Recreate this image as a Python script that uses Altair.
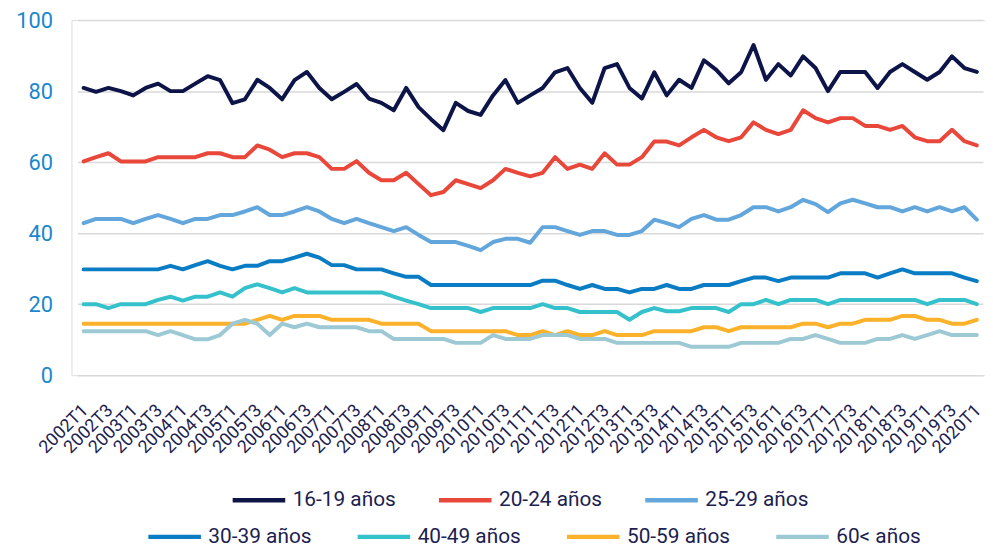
import altair as alt
import pandas as pd

# Quarter categories 2002T1 .. 2020T1
quarters = [f"{y}T{q}" for y in range(2002, 2021) for q in range(1, 5)][:73]
tick_labels = [q for q in quarters if q.endswith("T1") or q.endswith("T3")]

series_names = ["16-19 años", "20-24 años", "25-29 años",
                "30-39 años", "40-49 años", "50-59 años", "60< años"]
series_colors = ["#0c1448", "#e8473a", "#62a6dc",
                 "#0a7cc4", "#35c1cc", "#fbb12a", "#9dc9d4"]

s16_19 = [80.9, 79.8, 80.9, 80.0, 78.8, 80.9, 82.1, 80.0, 80.0, 82.1, 84.2, 83.1, 76.6, 77.7, 83.2, 80.9, 77.7, 83.1, 85.4, 80.9, 77.7,
          79.8, 82.0, 77.9, 76.7, 74.6, 80.9, 75.5, 72.1, 69.0, 76.7, 74.4, 73.3, 78.8, 83.1, 76.7, 78.8, 80.9, 85.3, 86.5, 80.9, 76.7, 86.5, 87.6, 80.9, 77.9, 85.3,
          78.8, 83.2, 80.9, 88.7, 86.0, 82.2, 85.3, 93.0, 83.2, 87.6, 84.4, 89.8, 86.5, 80.0, 85.4, 85.4, 85.4, 80.9, 85.4, 87.6, 85.4, 83.2, 85.4, 89.8, 86.5, 85.4]
s20_24 = [60.2, 61.4, 62.5, 60.2, 60.2, 60.2, 61.4, 61.4, 61.4, 61.4, 62.5, 62.5, 61.4, 61.4, 64.7, 63.5, 61.4, 62.5, 62.5, 61.4, 58.1,
          58.1, 60.3, 57.0, 54.9, 54.9, 57.0, 53.8, 50.7, 51.6, 54.9, 53.8, 52.7, 54.9, 58.1, 57.0, 56.0, 57.0, 61.4, 58.1, 59.3, 58.1, 62.5, 59.3, 59.3, 61.4, 65.8,
          65.8, 64.7, 67.0, 69.1, 67.0, 65.9, 67.0, 71.2, 69.1, 67.9, 69.1, 74.6, 72.4, 71.2, 72.4, 72.4, 70.2, 70.2, 69.1, 70.2, 67.0, 65.9, 65.9, 69.1, 65.9, 64.7]
s25_29 = [42.8, 44.0, 44.0, 44.0, 42.8, 44.0, 45.1, 44.0, 42.8, 44.0, 44.0, 45.1, 45.1, 46.1, 47.3, 45.1, 45.1, 46.1, 47.3, 46.1, 44.0,
          42.8, 44.0, 42.8, 41.7, 40.6, 41.7, 39.5, 37.5, 37.5, 37.5, 36.4, 35.2, 37.5, 38.4, 38.4, 37.3, 41.7, 41.7, 40.6, 39.5, 40.6, 40.6, 39.5, 39.5, 40.6, 43.8,
          42.8, 41.7, 44.0, 45.1, 43.8, 43.8, 45.1, 47.3, 47.3, 46.1, 47.3, 49.4, 48.2, 45.9, 48.4, 49.4, 48.4, 47.3, 47.3, 46.1, 47.3, 46.1, 47.3, 46.1, 47.3, 43.8]
s30_39 = [29.8, 29.8, 29.8, 29.8, 29.8, 29.8, 29.8, 30.8, 29.8, 31.0, 32.1, 30.8, 29.8, 30.8, 30.8, 32.1, 32.1, 33.1, 34.2, 33.1, 31.0,
          31.0, 29.8, 29.8, 29.8, 28.7, 27.7, 27.7, 25.4, 25.4, 25.4, 25.4, 25.4, 25.4, 25.4, 25.4, 25.4, 26.6, 26.6, 25.4, 24.3, 25.4, 24.3, 24.3, 23.3, 24.3, 24.3,
          25.4, 24.3, 24.3, 25.4, 25.4, 25.4, 26.5, 27.5, 27.5, 26.5, 27.5, 27.5, 27.5, 27.5, 28.7, 28.7, 28.7, 27.5, 28.7, 29.8, 28.7, 28.7, 28.7, 28.7, 27.5, 26.5]
s40_49 = [20.0, 20.0, 18.9, 20.0, 20.0, 20.0, 21.2, 22.1, 21.0, 22.1, 22.1, 23.3, 22.1, 24.5, 25.6, 24.5, 23.3, 24.5, 23.3, 23.3, 23.3,
          23.3, 23.3, 23.3, 23.3, 22.1, 21.0, 20.0, 18.9, 18.9, 18.9, 18.9, 17.8, 18.9, 18.9, 18.9, 18.9, 20.0, 18.9, 18.9, 17.8, 17.8, 17.8, 17.8, 15.6, 17.8, 18.9,
          18.0, 18.0, 18.9, 18.9, 18.9, 17.8, 20.0, 20.0, 21.2, 20.0, 21.2, 21.2, 21.2, 20.0, 21.2, 21.2, 21.2, 21.2, 21.2, 21.2, 21.2, 20.0, 21.2, 21.2, 21.2, 20.0]
s50_59 = [14.5, 14.5, 14.5, 14.5, 14.5, 14.5, 14.5, 14.5, 14.5, 14.5, 14.5, 14.5, 14.5, 14.5, 15.6, 16.7, 15.6, 16.7, 16.7, 16.7, 15.6,
          15.6, 15.6, 15.6, 14.5, 14.5, 14.5, 14.5, 12.4, 12.4, 12.4, 12.4, 12.4, 12.4, 12.4, 11.3, 11.3, 12.4, 11.3, 12.4, 11.3, 11.3, 12.4, 11.3, 11.3, 11.3, 12.4,
          12.4, 12.4, 12.4, 13.5, 13.5, 12.4, 13.5, 13.5, 13.5, 13.5, 13.5, 14.5, 14.5, 13.5, 14.5, 14.5, 15.6, 15.6, 15.6, 16.7, 16.7, 15.6, 15.6, 14.5, 14.5, 15.6]
s60 = [12.4, 12.4, 12.4, 12.4, 12.4, 12.4, 11.3, 12.4, 11.3, 10.1, 10.1, 11.3, 14.5, 15.6, 14.5, 11.3, 14.5, 13.5, 14.5, 13.5, 13.5,
       13.5, 13.5, 12.4, 12.4, 10.2, 10.2, 10.2, 10.2, 10.2, 9.1, 9.1, 9.1, 11.3, 10.2, 10.2, 10.2, 11.3, 11.3, 11.3, 10.2, 10.2, 10.2, 9.1, 9.1, 9.1, 9.1,
       9.1, 9.1, 8.0, 8.0, 8.0, 8.0, 9.1, 9.1, 9.1, 9.1, 10.2, 10.2, 11.3, 10.2, 9.1, 9.1, 9.1, 10.2, 10.2, 11.3, 10.2, 11.3, 12.4, 11.3, 11.3, 11.3]

all_series = [s16_19, s20_24, s25_29, s30_39, s40_49, s50_59, s60]

rows = []
for name, vals in zip(series_names, all_series):
    for q, v in zip(quarters, vals):
        rows.append({"quarter": q, "series": name, "value": v})
df = pd.DataFrame(rows)

FONT = "Roboto"
NAVY = "#1b2150"

x_enc = alt.X(
    "quarter:N", sort=quarters,
    scale=alt.Scale(type="point", range=[6, 919]),
    axis=alt.Axis(values=tick_labels, labelAngle=315, labelAlign="right",
                  labelBaseline="top", labelPadding=26, labelOffset=-5,
                  labelFontSize=18, labelFont=FONT, labelColor=NAVY,
                  labelOverlap=False, domain=False, ticks=False, tickSize=0,
                  grid=False, title=None),
)
y_enc = alt.Y(
    "value:Q",
    scale=alt.Scale(domain=[0, 100], nice=False),
    axis=alt.Axis(values=[0, 20, 40, 60, 80, 100], grid=True,
                  gridColor="#d9d9d9", gridWidth=1.5, domain=False,
                  ticks=False, tickSize=0, labelFontSize=22, labelFont=FONT,
                  labelColor="#1a87cf", labelPadding=19, title=None),
)


def legend(x, y, col_pad):
    return alt.Legend(orient="none", legendX=x, legendY=y,
                      direction="horizontal", symbolType="stroke",
                      symbolSize=2809, symbolStrokeWidth=4.5,
                      labelFontSize=21, labelFont=FONT, labelColor=NAVY,
                      labelOffset=5, columnPadding=col_pad, gridAlign="all",
                      padding=0, title=None)


g1, c1 = series_names[:3], series_colors[:3]
g2, c2 = series_names[3:], series_colors[3:]

line_kw = dict(strokeWidth=4, strokeJoin="round", strokeCap="round")

layer_b = alt.Chart(df).transform_filter(
    alt.FieldOneOfPredicate(field="series", oneOf=g2)
).mark_line(**line_kw).encode(
    x=x_enc, y=y_enc,
    color=alt.Color("series:N", sort=g2,
                    scale=alt.Scale(domain=g2, range=c2),
                    legend=legend(75, 492, 36)),
)

layer_a = alt.Chart(df).transform_filter(
    alt.FieldOneOfPredicate(field="series", oneOf=g1)
).mark_line(**line_kw).encode(
    x=x_enc, y=y_enc,
    color=alt.Color("series:N", sort=g1,
                    scale=alt.Scale(domain=g1, range=c1),
                    legend=legend(160, 455, 33)),
)

chart = alt.layer(layer_b, layer_a).resolve_scale(color="independent").properties(
    width=921, height=358,
    autosize=alt.AutoSizeParams(type="none"),
    padding={"left": 64, "top": 10, "right": 0, "bottom": 170},
    background="white",
).configure_view(stroke=None).configure(font=FONT)

chart.save("out.html", embed_options={"renderer": "svg", "actions": False})
